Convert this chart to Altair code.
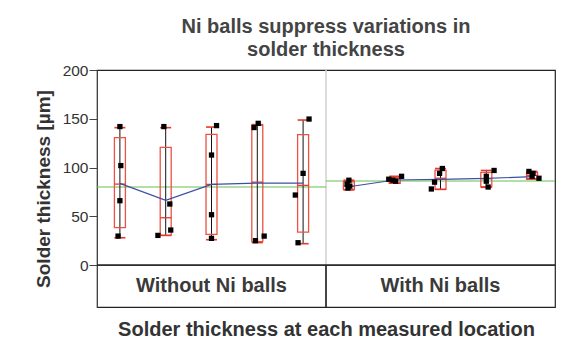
import altair as alt
import pandas as pd

# ---- data ----
positions = [1, 2, 3, 4, 5, 6, 7, 8, 9, 10]
panel = ["Without"] * 5 + ["With"] * 5
whisker_low = [28.0, 30.4, 26.0, 23.0, 21.9, 77.0, 84.0, 77.6, 79.7, 88.5]
q1 = [38.3, 30.4, 31.5, 24.0, 33.8, 77.6, 83.8, 77.6, 80.3, 87.9]
median = [83.0, 48.5, 82.7, 85.0, 81.7, 81.0, 88.5, 89.0, 88.5, 92.0]
q3 = [130.6, 120.7, 134.0, 143.6, 133.7, 85.4, 89.6, 97.4, 95.0, 94.7]
whisker_high = [140.9, 140.9, 141.5, 144.0, 148.7, 87.0, 91.0, 99.0, 97.0, 96.0]
means = [83.8, 66.3, 82.7, 84.1, 84.1, 80.3, 87.2, 87.9, 88.9, 90.6]

pt_pos = [1] * 4 + [2] * 4 + [3] * 4 + [4] * 4 + [5] * 4 + [6] * 4 + [7] * 4 + [8] * 4 + [9] * 4 + [10] * 4
pt_val = [142, 102, 66, 29.7,
          142, 62.6, 35.9, 30.4,
          143, 112.8, 51.6, 27.4,
          141, 145.3, 25, 29.7,
          149.7, 94, 71.8, 22.9,
          87, 83, 81, 79,
          91, 88, 87, 86,
          99, 94, 85, 78,
          97, 91, 86, 80,
          96, 94, 91, 89]
pt_jitter = [0.0, 0.02, 0.0, -0.04,
             -0.04, 0.09, 0.11, -0.17,
             0.11, 0.0, 0.0, 0.0,
             -0.07, 0.02, -0.04, 0.15,
             0.13, 0.0, -0.17, -0.11,
             0.0, -0.04, 0.02, -0.02,
             0.15, -0.13, -0.04, 0.02,
             0.04, -0.02, -0.13, -0.2,
             0.17, 0.0, 0.0, 0.04,
             -0.07, 0.02, 0.0, 0.15]

ref_panel = ["Without", "With"]
ref_start = [0.5, 5.5]
ref_end = [5.5, 10.5]
ref_value = [80.0, 86.2]

band_labels = ["Without Ni balls", "With Ni balls"]
band_centers = [3, 8]

TITLE = ["Ni balls suppress variations in", "solder thickness"]
YTITLE = "Solder thickness [µm]"
XTITLE = "Solder thickness at each measured location"

# ---- style ----
FONT = "Liberation Sans"
RED = "#e53a2e"
BOXRED = "#ec5244"
BLUE = "#3b4fa3"
GREEN = "#66c04c"
HALF = 0.12
BAND_LOW = -43

xscale = alt.Scale(domain=[0.5, 10.5], nice=False, zero=False)
yscale = alt.Scale(domain=[BAND_LOW, 200], nice=False, zero=False)

xaxis = alt.Axis(labels=False, ticks=False, domain=False, grid=False,
                 titleFontSize=20, titleFont=FONT, titleFontWeight="bold",
                 titleColor="#333333", titlePadding=12)
yaxis = alt.Axis(values=[0, 25, 50, 75, 100, 125, 150, 175, 200],
                 labelExpr="datum.value % 50 == 0 ? datum.label : ''",
                 tickSize={"condition": {"test": "datum.value % 50 == 0", "value": 8}, "value": 5},
                 tickColor="#444444", domainColor="#444444", grid=False,
                 labelFont=FONT, labelFontSize=15.5, labelColor="#333333", labelPadding=1,
                 titleFont=FONT, titleFontSize=19, titleFontWeight="bold",
                 titleColor="#333333", titlePadding=9)


def X(field="x"):
    return alt.X(f"{field}:Q", scale=xscale, axis=xaxis, title=XTITLE)


def Y(field="y"):
    return alt.Y(f"{field}:Q", scale=yscale, axis=yaxis, title=YTITLE)


stats = pd.DataFrame({
    "x": positions, "panel": panel, "low": whisker_low, "q1": q1,
    "median": median, "q3": q3, "high": whisker_high, "mean": means,
})
stats["xl"] = stats["x"] - HALF
stats["xr"] = stats["x"] + HALF

pts = pd.DataFrame({"pos": pt_pos, "y": pt_val, "j": pt_jitter})
pts["x"] = pts["pos"] + pts["j"]

refs = pd.DataFrame({"x": ref_start, "x2": ref_end, "y": ref_value, "panel": ref_panel})
band = pd.DataFrame({"x": band_centers, "label": band_labels})
band["y"] = BAND_LOW / 2.0

base_stats = alt.Chart(stats)

zero_line = alt.Chart(band).mark_rule(color="#222222", strokeWidth=1.2).encode(y=alt.datum(0))
divider_plot = alt.Chart(band).mark_rule(color="#d0d0d0", strokeWidth=1).encode(
    x=alt.datum(5.5), y=alt.datum(0), y2=alt.datum(200))
divider_band = alt.Chart(band).mark_rule(color="#222222", strokeWidth=1.2).encode(
    x=alt.datum(5.5), y=alt.datum(BAND_LOW), y2=alt.datum(0))

green = alt.Chart(refs).mark_rule(color=GREEN, strokeWidth=1.1).encode(
    x=X(), x2="x2:Q", y=Y())

blue = base_stats.mark_line(color=BLUE, strokeWidth=1.2).encode(
    x=X(), y=Y("mean"), detail="panel:N")

whisk = base_stats.mark_rule(color="#111111", strokeWidth=1).encode(
    x=X(), y=Y("low"), y2="high:Q")

boxes = base_stats.mark_rect(fillOpacity=0, fill="white", stroke=BOXRED, strokeWidth=1.3).encode(
    x=X("xl"), x2="xr:Q", y=Y("q1"), y2="q3:Q")

cap_low = base_stats.mark_rule(color=RED, strokeWidth=1.6).encode(
    x=X("xl"), x2="xr:Q", y=Y("low"))
cap_high = base_stats.mark_rule(color=RED, strokeWidth=1.6).encode(
    x=X("xl"), x2="xr:Q", y=Y("high"))
med = base_stats.mark_rule(color=RED, strokeWidth=1.3).encode(
    x=X("xl"), x2="xr:Q", y=Y("median"))

points = alt.Chart(pts).mark_square(color="#000000", size=28, opacity=1, filled=True).encode(
    x=X(), y=Y())

band_text = alt.Chart(band).mark_text(font=FONT, fontSize=20, fontWeight="bold",
                                      color="#3a3a3a", baseline="middle").encode(
    x=X(), y=Y(), text="label:N")

chart = alt.layer(
    divider_plot, green, whisk, boxes, cap_low, cap_high, med, blue, points,
    zero_line, divider_band, band_text,
).properties(
    width=458, height=237,
    title=alt.Title(TITLE, font=FONT, fontSize=20, fontWeight="bold", color="#444444",
                    anchor="middle", lineHeight=23, offset=3),
    padding={"left": 26, "top": 9, "right": 5, "bottom": 5},
).configure_view(stroke="#222222", strokeWidth=1.2)

chart.save("out.html", embed_options={"renderer": "svg", "actions": False})
